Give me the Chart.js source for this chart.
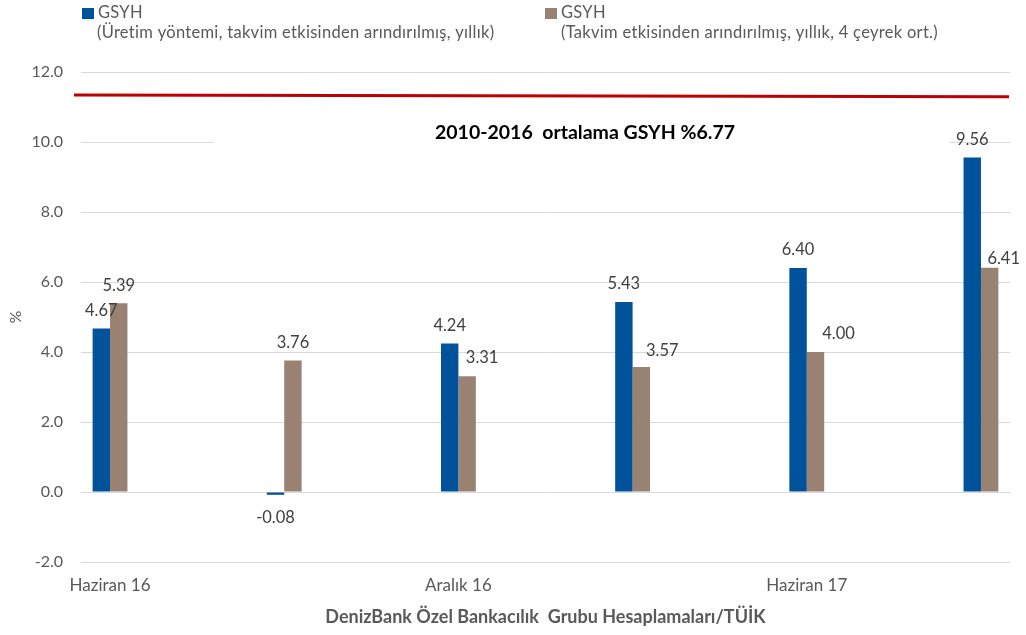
<!DOCTYPE html>
<html>
<head>
<meta charset="utf-8">
<script src="https://cdn.jsdelivr.net/npm/chart.js@4"></script>
<style>
  html, body { margin: 0; padding: 0; background: #fff; }
</style>
</head>
<body>
<canvas id="gdpChart" width="1026" height="635"></canvas>
<script>
// Monthly slots on the x axis, bars only on quarter months
const months = ['Haziran 16', 'Temmuz 16', 'Ağustos 16', 'Eylül 16', 'Ekim 16', 'Kasım 16',
    'Aralık 16', 'Ocak 17', 'Şubat 17', 'Mart 17', 'Nisan 17', 'Mayıs 17',
    'Haziran 17', 'Temmuz 17', 'Ağustos 17', 'Eylül 17'];
const quarters = ['Haziran 16', 'Eylül 16', 'Aralık 16', 'Mart 17', 'Haziran 17', 'Eylül 17'];
const shownMonths = ['Haziran 16', 'Aralık 16', 'Haziran 17'];
const gdpProduction = [4.67, -0.08, 4.24, 5.43, 6.40, 9.56];
const gdpFourQuarter = [5.39, 3.76, 3.31, 3.57, 4.00, 6.41];
const avgLine = [11.34, 11.29];   // red reference line, left end / right end
const avgNote = '2010-2016  ortalama GSYH %6.77';

const FONT = 'Lato, "Open Sans", sans-serif';
const GREY = '#595959';
const BLUE = '#00529B';
const BROWN = '#9A8273';

// label nudges (px) where labels were moved off the bars
const brownNudge = [[0, 0], [0, 0], [15, 0], [21, 2], [23, 0], [14, 9]];

const toPoints = vals => quarters.map((q, i) => ({ x: q, y: vals[i] }));

const extras = {
    id: 'extras',
    beforeDatasetsDraw(chart) {
        const { ctx } = chart;
        // white box behind the note hides the grid there
        ctx.save();
        ctx.fillStyle = '#fff';
        ctx.fillRect(214, 112, 736, 46);
        ctx.restore();
    },
    afterDatasetsDraw(chart) {
        const { ctx, chartArea, scales } = chart;
        const y = scales.y;
        ctx.save();
        // red average line
        ctx.strokeStyle = '#C00000';
        ctx.lineWidth = 3;
        ctx.beginPath();
        ctx.moveTo(chartArea.left - 7, y.getPixelForValue(avgLine[0]));
        ctx.lineTo(chartArea.right - 1, y.getPixelForValue(avgLine[1]));
        ctx.stroke();

        // note
        ctx.fillStyle = '#000';
        ctx.font = 'bold 19.5px ' + FONT;
        ctx.textAlign = 'center';
        ctx.textBaseline = 'middle';
        ctx.fillText(avgNote, 585, 133);

        // value labels
        ctx.font = '16.5px ' + FONT;
        ctx.fillStyle = '#404040';
        chart.data.datasets.forEach((ds, di) => {
            chart.getDatasetMeta(di).data.forEach((bar, i) => {
                const v = ds.data[i].y;
                const n = di === 1 ? brownNudge[i] : [0, 0];
                const ly = v >= 0 ? bar.y - 18 : bar.y + 23;
                ctx.fillText(v.toFixed(2), bar.x + n[0], ly + n[1]);
            });
        });

        // legend
        ctx.textAlign = 'left';
        ctx.fillStyle = BLUE;
        ctx.fillRect(82, 8, 12, 11);
        ctx.fillStyle = BROWN;
        ctx.fillRect(545, 8, 12, 11);
        ctx.font = '16.5px ' + FONT;
        ctx.letterSpacing = '0.3px';
        ctx.fillStyle = GREY;
        ctx.fillText('GSYH', 98, 13);
        ctx.fillText('(Üretim yöntemi, takvim etkisinden arındırılmış, yıllık)', 97, 33);
        ctx.fillText('GSYH', 561, 13);
        ctx.fillText('(Takvim etkisinden arındırılmış, yıllık, 4 çeyrek ort.)', 561, 33);
        ctx.restore();
    }
};

new Chart(document.getElementById('gdpChart'), {
    type: 'bar',
    data: {
        labels: months,
        datasets: [
            { label: 'GSYH (Üretim yöntemi, takvim etkisinden arındırılmış, yıllık)', data: toPoints(gdpProduction), backgroundColor: BLUE },
            { label: 'GSYH (Takvim etkisinden arındırılmış, yıllık, 4 çeyrek ort.)', data: toPoints(gdpFourQuarter), backgroundColor: BROWN }
        ]
    },
    options: {
        responsive: false,
        animation: false,
        devicePixelRatio: 1,
        categoryPercentage: 0.6,
        barPercentage: 1.0,
        layout: { padding: { top: 72, right: 16, left: 0, bottom: 0 } },
        plugins: { legend: { display: false }, tooltip: { enabled: false } },
        scales: {
            x: {
                grid: { display: false, drawTicks: false },
                border: { display: false },
                ticks: {
                    autoSkip: false, maxRotation: 0, padding: 13,
                    color: GREY, font: { family: FONT, size: 17 },
                    callback: (v, i) => shownMonths.includes(months[i]) ? months[i] : ''
                },
                title: {
                    display: true, text: 'DenizBank Özel Bankacılık  Grubu Hesaplamaları/TÜİK',
                    color: GREY, font: { family: FONT, size: 18, weight: 'bold' },
                    padding: { top: 0, bottom: 7 }
                },
                afterFit: s => { s.height = 73; }
            },
            y: {
                min: -2, max: 12,
                grid: { color: '#d9d9d9', lineWidth: 1, drawTicks: false },
                border: { display: false },
                ticks: {
                    stepSize: 2, padding: 18, color: GREY,
                    font: { family: FONT, size: 16 },
                    callback: v => v.toFixed(1)
                },
                title: {
                    display: true, text: '%', color: GREY,
                    font: { family: FONT, size: 16 },
                    padding: { top: 6, bottom: 0 }
                },
                afterFit: s => { s.width = 81; }
            }
        }
    },
    plugins: [extras]
});
</script>
</body>
</html>
